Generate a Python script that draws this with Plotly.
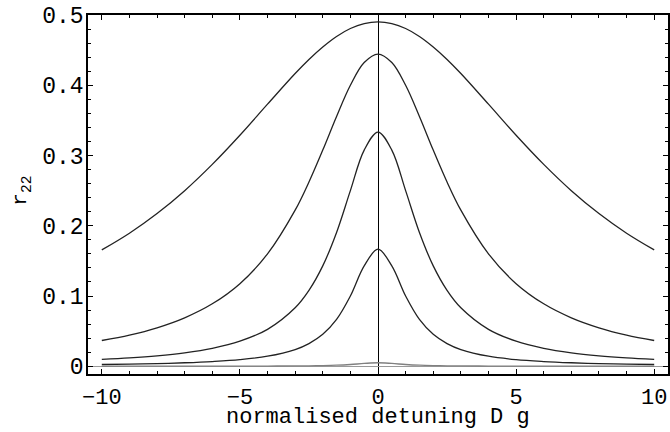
import plotly.graph_objects as go

detuning = [-10, -9, -8, -7, -6, -5, -4, -3, -2.5, -2, -1.5, -1, -0.5, 0,
            0.5, 1, 1.5, 2, 2.5, 3, 4, 5, 6, 7, 8, 9, 10]

# one half of each (symmetric) curve, from detuning 0 out to 10
half_a = [0.4902, 0.4878, 0.4808, 0.4695, 0.4545, 0.4367, 0.4167, 0.3731,
          0.3289, 0.2874, 0.2500, 0.2174, 0.1894, 0.1656]
half_b = [0.4444, 0.4324, 0.4000, 0.3556, 0.3077, 0.2623, 0.2222, 0.1600,
          0.1176, 0.0889, 0.0690, 0.0548, 0.0444, 0.0367]
half_c = [0.3333, 0.3077, 0.2500, 0.1905, 0.1429, 0.1081, 0.0833, 0.0526,
          0.0357, 0.0256, 0.0192, 0.0149, 0.0119, 0.0097]
half_d = [0.1667, 0.1429, 0.1000, 0.0667, 0.0455, 0.0323, 0.0238, 0.0143,
          0.0094, 0.0067, 0.0050, 0.0038, 0.0030, 0.0025]
half_e = [0.0050, 0.0040, 0.0025, 0.0015, 0.0010, 0.0007, 0.0005, 0.0003,
          0.0002, 0.00014, 0.0001, 0.0001, 0.0001, 0.00005]

y_ticks = [0, 0.1, 0.2, 0.3, 0.4, 0.5]
y_tick_labels = ['0', '0.1', '0.2', '0.3', '0.4', '0.5']
x_ticks = [-10, -5, 0, 5, 10]
x_title = 'normalised detuning D g'
y_title = 'r<sub>22</sub>'


def mirror(half):
    """Full curve over detuning from its half for detuning >= 0."""
    return half[:0:-1] + half


curves = [(mirror(half_a), '#222222'), (mirror(half_b), '#222222'),
          (mirror(half_c), '#222222'), (mirror(half_d), '#222222'),
          (mirror(half_e), '#808080')]

fig = go.Figure()
for values, colour in curves:
    fig.add_trace(go.Scatter(x=detuning, y=values, mode='lines',
                             line={'color': colour, 'width': 1.3, 'shape': 'spline'},
                             showlegend=False, hoverinfo='skip'))

font = {'family': 'Liberation Mono, Courier New, monospace', 'size': 23, 'color': 'black'}

fig.update_layout(
    width=670, height=432,
    margin={'l': 88, 'r': 2, 't': 15, 'b': 58, 'autoexpand': False},
    plot_bgcolor='white', paper_bgcolor='white',
    font=font,
    xaxis={'range': [-10.5, 10.5], 'tickvals': x_ticks, 'ticks': 'inside',
           'ticklen': 5, 'tickwidth': 1, 'tickcolor': 'black', 'automargin': False,
           'minor': {'dtick': 1, 'ticks': 'inside', 'ticklen': 3, 'tickcolor': 'black'},
           'showline': True, 'linecolor': 'black', 'linewidth': 1.5, 'mirror': 'ticks',
           'showgrid': False, 'zeroline': True, 'zerolinecolor': 'black',
           'zerolinewidth': 1.3, 'ticklabelstandoff': 2, 'ticklabeloverflow': 'allow',
           'tickfont': {'size': 22}},
    yaxis={'range': [-0.011, 0.5], 'tickvals': y_ticks, 'ticktext': y_tick_labels,
           'ticks': 'inside', 'ticklen': 5, 'tickwidth': 1, 'tickcolor': 'black',
           'automargin': False,
           'minor': {'dtick': 0.02, 'ticks': 'inside', 'ticklen': 3, 'tickcolor': 'black'},
           'showline': True, 'linecolor': 'black', 'linewidth': 1.5, 'mirror': 'ticks',
           'showgrid': False, 'zeroline': True, 'zerolinecolor': '#999999',
           'zerolinewidth': 1, 'ticklabelstandoff': -2, 'ticklabeloverflow': 'allow'},
    annotations=[
        {'text': x_title, 'xref': 'x', 'yref': 'paper', 'x': 0, 'y': 0,
         'yshift': -43, 'showarrow': False, 'xanchor': 'center', 'yanchor': 'middle',
         'font': {'size': 22}},
        {'text': y_title, 'xref': 'paper', 'yref': 'y', 'x': 0, 'y': 0.25,
         'xshift': -66, 'showarrow': False, 'textangle': -90, 'font': {'size': 21},
         'xanchor': 'center', 'yanchor': 'middle'},
    ],
)

# drop the page's default body margin so the figure fills the window exactly
fig.write_html('out.html', config={'displayModeBar': False},
               post_script="document.body.style.margin='0';"
                           "document.body.style.overflow='hidden';")
